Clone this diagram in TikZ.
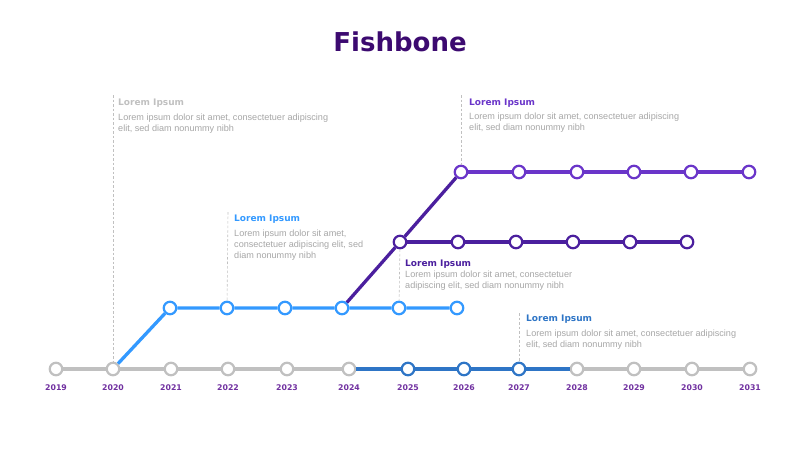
\documentclass[tikz,border=0pt]{standalone}
\usepackage{fontspec}
\setmainfont{DejaVu Sans}
\newfontfamily\bodyfont{Liberation Sans}
\usepackage{tikz}
\usepackage{color}
\definecolor{fbtitle}{HTML}{3C0A70}
\definecolor{fbyear}{HTML}{7030A0}
\definecolor{fbgray}{HTML}{C0C0C0}
\definecolor{fbtext}{HTML}{A6A6A6}
\definecolor{fblight}{HTML}{3399FF}
\definecolor{fbblue}{HTML}{2E75C6}
\definecolor{fbdark}{HTML}{4B1F9E}
\definecolor{fbviolet}{HTML}{6A35C9}
\tikzset{
  dot/.style = {circle, draw=#1, fill=white, line width=2.2pt, minimum size=12.5pt, inner sep=0pt},
  track/.style = {draw=#1, line width=3.3pt},
  guide/.style = {draw=fbgray, line width=0.6pt, dash pattern=on 2.5pt off 2pt},
  year/.style = {font=\bfseries\fontsize{7.8}{9}\selectfont, text=fbyear, inner sep=0pt},
  head/.style = {font=\bfseries\fontsize{9}{11}\selectfont, text=#1, anchor=base west, inner sep=0pt},
  body/.style = {font=\bodyfont\fontsize{9.1}{11}\selectfont, text=fbtext, align=left, anchor=north west, inner sep=0pt},
}

\begin{document}
\begin{tikzpicture}[x=1pt,y=-1pt]
            \useasboundingbox (0,0) rectangle (800,450);
            \node[font=\bfseries\fontsize{26}{30}\selectfont, text=fbtitle, anchor=base] (title) at (400,51.7) {Fishbone};

            \node[dot=fbgray] (bot2019) at (56,369) {};
            \node[dot=fbgray] (bot2020) at (113,369) {};
            \node[dot=fbgray] (bot2021) at (171,369) {};
            \node[dot=fbgray] (bot2022) at (228,369) {};
            \node[dot=fbgray] (bot2023) at (287,369) {};
            \node[dot=fbgray] (bot2024) at (349,369) {};
            \node[dot=fbblue] (bot2025) at (408,369) {};
            \node[dot=fbblue] (bot2026) at (464,369) {};
            \node[dot=fbblue] (bot2027) at (519,369) {};
            \node[dot=fbgray] (bot2028) at (577,369) {};
            \node[dot=fbgray] (bot2029) at (634,369) {};
            \node[dot=fbgray] (bot2030) at (692,369) {};
            \node[dot=fbgray] (bot2031) at (750,369) {};

            \node[year] (lbl2019) at (56,388) {2019};
            \node[year] (lbl2020) at (113,388) {2020};
            \node[year] (lbl2021) at (171,388) {2021};
            \node[year] (lbl2022) at (228,388) {2022};
            \node[year] (lbl2023) at (287,388) {2023};
            \node[year] (lbl2024) at (349,388) {2024};
            \node[year] (lbl2025) at (408,388) {2025};
            \node[year] (lbl2026) at (464,388) {2026};
            \node[year] (lbl2027) at (519,388) {2027};
            \node[year] (lbl2028) at (577,388) {2028};
            \node[year] (lbl2029) at (634,388) {2029};
            \node[year] (lbl2030) at (692,388) {2030};
            \node[year] (lbl2031) at (750,388) {2031};

            \node[dot=fblight] (mid2021) at (170,308) {};
            \node[dot=fblight] (mid2022) at (227,308) {};
            \node[dot=fblight] (mid2023) at (285,308) {};
            \node[dot=fblight] (mid2024) at (342,308) {};
            \node[dot=fblight] (mid2025) at (399,308) {};
            \node[dot=fblight] (mid2026) at (457,308) {};

            \node[dot=fbdark] (up2025) at (400,242) {};
            \node[dot=fbdark] (up2026) at (458,242) {};
            \node[dot=fbdark] (up2027) at (516,242) {};
            \node[dot=fbdark] (up2028) at (573,242) {};
            \node[dot=fbdark] (up2029) at (630,242) {};
            \node[dot=fbdark] (up2030) at (687,242) {};

            \node[dot=fbviolet] (top2026) at (461,172) {};
            \node[dot=fbviolet] (top2027) at (519,172) {};
            \node[dot=fbviolet] (top2028) at (577,172) {};
            \node[dot=fbviolet] (top2029) at (634,172) {};
            \node[dot=fbviolet] (top2030) at (691,172) {};
            \node[dot=fbviolet] (top2031) at (749,172) {};

            \path[track=fbgray] (bot2019) -- (bot2020) -- (bot2021) -- (bot2022) -- (bot2023) -- (bot2024);
            \path[track=fbblue] (bot2024) -- (bot2025) -- (bot2026) -- (bot2027) -- (bot2028);
            \path[track=fbgray] (bot2028) -- (bot2029) -- (bot2030) -- (bot2031);
            \path[track=fblight] (bot2020) -- (mid2021) -- (mid2022) -- (mid2023) -- (mid2024) -- (mid2025) -- (mid2026);
            \path[track=fbdark] (mid2024) -- (up2025) -- (top2026);
            \path[track=fbdark] (up2025) -- (up2026) -- (up2027) -- (up2028) -- (up2029) -- (up2030);
            \path[track=fbviolet] (top2026) -- (top2027) -- (top2028) -- (top2029) -- (top2030) -- (top2031);

            \coordinate (pinA) at (113,95);
            \coordinate (pinB) at (228,212);
            \coordinate (pinC) at (461,95);
            \coordinate (pinE) at (519,313);
            \path[guide] (pinA) -- (bot2020);
            \path[guide] (pinB) -- (mid2022);
            \path[guide] (pinC) -- (top2026);
            \path[guide] (up2025) -- (mid2025);
            \path[guide] (pinE) -- (bot2027);

            \node[head=fbgray] (headA) at (118,105) {Lorem Ipsum};
            \node[body] (textA) at (118,113.5) {Lorem ipsum dolor sit amet, consectetuer adipiscing\\elit, sed diam nonummy nibh};
            \node[head=fblight] (headB) at (234,221) {Lorem Ipsum};
            \node[body] (textB) at (234,229.5) {Lorem ipsum dolor sit amet,\\consectetuer adipiscing elit, sed\\diam nonummy nibh};
            \node[head=fbviolet] (headC) at (469,105) {Lorem Ipsum};
            \node[body] (textC) at (469,113) {Lorem ipsum dolor sit amet, consectetuer adipiscing\\elit, sed diam nonummy nibh};
            \node[head=fbdark] (headD) at (405,266) {Lorem Ipsum};
            \node[body] (textD) at (405,270.5) {Lorem ipsum dolor sit amet, consectetuer\\adipiscing elit, sed diam nonummy nibh};
            \node[head=fbblue] (headE) at (526,321.5) {Lorem Ipsum};
            \node[body] (textE) at (526,329.5) {Lorem ipsum dolor sit amet, consectetuer adipiscing\\elit, sed diam nonummy nibh};
        \end{tikzpicture}
\end{document}
